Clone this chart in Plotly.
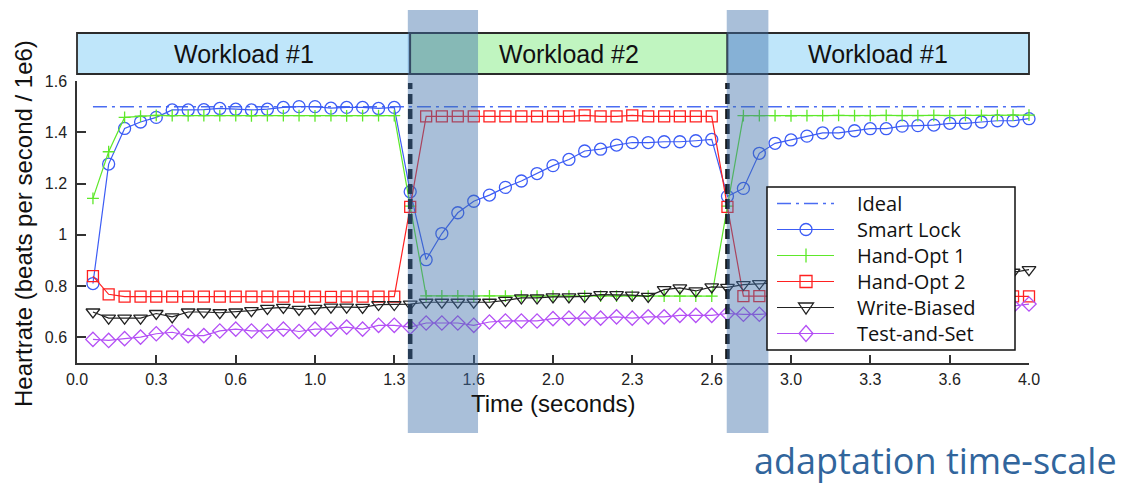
import plotly.graph_objects as go

# ---------------------------------------------------------------- data ----
time_s = [0.067, 0.133, 0.2, 0.267, 0.333, 0.4, 0.467, 0.533, 0.6, 0.667,
          0.733, 0.8, 0.867, 0.933, 1.0, 1.067, 1.133, 1.2, 1.267, 1.333,
          1.4, 1.467, 1.533, 1.6, 1.667, 1.733, 1.8, 1.867, 1.933, 2.0,
          2.067, 2.133, 2.2, 2.267, 2.333, 2.4, 2.467, 2.533, 2.6, 2.667,
          2.733, 2.8, 2.867, 2.933, 3.0, 3.067, 3.133, 3.2, 3.267, 3.333,
          3.4, 3.467, 3.533, 3.6, 3.667, 3.733, 3.8, 3.867, 3.933, 4.0]

ideal_time = [0.067, 4.0]
ideal = [1.5, 1.5]

smart_lock = [0.81, 1.276, 1.415, 1.44, 1.458, 1.487, 1.487, 1.488, 1.493, 1.49,
              1.487, 1.49, 1.497, 1.5, 1.5, 1.494, 1.497, 1.497, 1.493, 1.497,
              1.168, 0.903, 1.005, 1.086, 1.131, 1.155, 1.185, 1.21, 1.239, 1.27,
              1.294, 1.327, 1.334, 1.35, 1.36, 1.36, 1.363, 1.363, 1.367, 1.372,
              1.15, 1.181, 1.318, 1.357, 1.37, 1.385, 1.398, 1.398, 1.406, 1.414,
              1.414, 1.424, 1.426, 1.428, 1.435, 1.435, 1.44, 1.445, 1.445, 1.453]

hand_opt_1 = [1.142, 1.324, 1.458, 1.463, 1.466, 1.465, 1.465, 1.465, 1.465, 1.465,
              1.464, 1.465, 1.465, 1.465, 1.464, 1.465, 1.464, 1.465, 1.465, 1.465,
              1.112, 0.762, 0.762, 0.762, 0.761, 0.762, 0.761, 0.761, 0.761, 0.761,
              0.761, 0.761, 0.761, 0.761, 0.761, 0.761, 0.761, 0.761, 0.761, 0.761,
              1.112, 1.465, 1.465, 1.465, 1.464, 1.465, 1.465, 1.466, 1.465, 1.465,
              1.466, 1.465, 1.465, 1.466, 1.465, 1.466, 1.466, 1.466, 1.467, 1.467]

hand_opt_2 = [0.839, 0.768, 0.759, 0.759, 0.759, 0.759, 0.759, 0.759, 0.759, 0.759,
              0.759, 0.759, 0.759, 0.759, 0.759, 0.758, 0.759, 0.759, 0.759, 0.759,
              1.109, 1.462, 1.462, 1.462, 1.462, 1.462, 1.462, 1.462, 1.462, 1.462,
              1.462, 1.466, 1.462, 1.462, 1.466, 1.462, 1.462, 1.462, 1.462, 1.462,
              1.109, 0.761, 0.761, 0.76, 0.76, 0.76, 0.76, 0.76, 0.76, 0.76,
              0.76, 0.76, 0.76, 0.76, 0.76, 0.76, 0.76, 0.76, 0.76, 0.76]

write_biased = [0.699, 0.675, 0.675, 0.675, 0.693, 0.68, 0.699, 0.699, 0.696, 0.699,
                0.704, 0.713, 0.717, 0.709, 0.713, 0.718, 0.718, 0.717, 0.728, 0.728,
                0.73, 0.737, 0.737, 0.737, 0.737, 0.737, 0.744, 0.754, 0.754, 0.758,
                0.758, 0.76, 0.767, 0.767, 0.765, 0.76, 0.786, 0.793, 0.781, 0.797,
                0.795, 0.806, 0.81, 0.812, 0.815, 0.817, 0.82, 0.823, 0.826, 0.828,
                0.831, 0.834, 0.836, 0.839, 0.842, 0.845, 0.847, 0.85, 0.854, 0.864]

test_and_set = [0.592, 0.588, 0.595, 0.601, 0.614, 0.62, 0.607, 0.607, 0.625, 0.632,
                0.625, 0.625, 0.632, 0.623, 0.632, 0.632, 0.64, 0.632, 0.647, 0.647,
                0.64, 0.656, 0.656, 0.656, 0.647, 0.66, 0.664, 0.664, 0.664, 0.673,
                0.675, 0.675, 0.675, 0.68, 0.675, 0.68, 0.68, 0.686, 0.686, 0.686,
                0.693, 0.69, 0.69, 0.692, 0.694, 0.696, 0.698, 0.7, 0.702, 0.704,
                0.706, 0.708, 0.71, 0.712, 0.714, 0.716, 0.718, 0.72, 0.722, 0.73]

legend_labels = ["Ideal", "Smart Lock", "Hand-Opt 1", "Hand-Opt 2",
                 "Write-Biased", "Test-and-Set"]

workload_labels = ["Workload #1", "Workload #2", "Workload #1"]
workload_edges = [0.0, 1.4, 2.733, 4.0]          # seconds
switch_times = [1.4, 2.733]                       # workload changes
adapt_windows = [(1.39, 1.685), (2.73, 2.905)]    # seconds

x_tick_vals = [0.0, 1 / 3, 2 / 3, 1.0, 4 / 3, 5 / 3, 2.0, 7 / 3, 8 / 3,
               3.0, 10 / 3, 11 / 3, 4.0]
x_tick_text = ["0.0", "0.3", "0.6", "1.0", "1.3", "1.6", "2.0", "2.3", "2.6",
               "3.0", "3.3", "3.6", "4.0"]
y_tick_vals = [0.6, 0.8, 1.0, 1.2, 1.4, 1.6]
y_tick_text = ["0.6", "0.8", "1", "1.2", "1.4", "1.6"]

# ------------------------------------------------------------ geometry ----
FIG_W, FIG_H = 1146, 487
M_L, M_R, M_T, M_B = 77, 117, 81, 124
PLOT_W = FIG_W - M_L - M_R
PLOT_H = FIG_H - M_T - M_B
X_RANGE = [0.0, 4.0]
Y_RANGE = [0.5, 1.6]

ARIAL = "Liberation Sans, Arial, sans-serif"
SLIDE = "Open Sans, Noto Sans, sans-serif"


def px_x(px):
    """Pixel column -> paper x."""
    return (px - M_L) / PLOT_W


def px_y(py):
    """Pixel row (from top) -> paper y."""
    return (FIG_H - M_B - py) / PLOT_H


def t_x(t):
    """Time in seconds -> paper x."""
    return (t - X_RANGE[0]) / (X_RANGE[1] - X_RANGE[0])


def px_path(points, close=True):
    parts = []
    for i, (x, y) in enumerate(points):
        parts.append(("M" if i == 0 else "L") + f"{px_x(x):.5f},{px_y(y):.5f}")
    return " ".join(parts) + (" Z" if close else "")


# series styling: colour, marker symbol, marker size
styles = {
    "Ideal": dict(color="#4a6cf2", symbol=None, size=0, dash="14px,5px,3px,5px"),
    "Smart Lock": dict(color="#3c5cf5", symbol="circle-open", size=12, dash="solid"),
    "Hand-Opt 1": dict(color="#5ee82a", symbol="cross-thin-open", size=8.5, dash="solid"),
    "Hand-Opt 2": dict(color="#ff2020", symbol="square-open", size=11, dash="solid"),
    "Write-Biased": dict(color="#222222", symbol="triangle-down-open", size=12, dash="solid"),
    "Test-and-Set": dict(color="#b450f5", symbol="diamond-open", size=11, dash="solid"),
}

fig = go.Figure()

fig.add_trace(go.Scatter(
    x=ideal_time, y=ideal, mode="lines", name="Ideal", showlegend=False,
    line=dict(color=styles["Ideal"]["color"], width=1.5, dash=styles["Ideal"]["dash"]),
    cliponaxis=False,
))

for name, values in zip(legend_labels[1:],
                        [smart_lock, hand_opt_1, hand_opt_2, write_biased, test_and_set]):
    st = styles[name]
    fig.add_trace(go.Scatter(
        x=time_s, y=values, mode="lines+markers", name=name, showlegend=False,
        line=dict(color=st["color"], width=1.2),
        marker=dict(symbol=st["symbol"], size=st["size"], color=st["color"],
                    line=dict(color=st["color"], width=1.3)),
        cliponaxis=False,
    ))

shapes = []
annotations = []

# workload banner above the plot
banner_fill = {"Workload #1": "#bfe6fa", "Workload #2": "#c0f5c0"}
for i, label in enumerate(workload_labels):
    x0, x1 = t_x(workload_edges[i]), t_x(workload_edges[i + 1])
    shapes.append(dict(type="rect", xref="paper", yref="paper",
                       x0=x0, x1=x1, y0=px_y(74), y1=px_y(33),
                       fillcolor=banner_fill[label],
                       line=dict(color="#2b2b2b", width=1.8), layer="above"))
    annotations.append(dict(xref="paper", yref="paper", x=(x0 + x1) / 2, y=px_y(53.5),
                            text=label, showarrow=False, xanchor="center", yanchor="middle",
                            font=dict(family=ARIAL, size=25, color="#111111")))

# workload switch markers
for t in switch_times:
    shapes.append(dict(type="line", xref="paper", yref="paper",
                       x0=t_x(t), x1=t_x(t), y0=px_y(359), y1=px_y(83),
                       line=dict(color="#111111", width=4.5, dash="10px,5px"),
                       layer="above"))

# adaptation windows
for t0, t1 in adapt_windows:
    shapes.append(dict(type="rect", xref="paper", yref="paper",
                       x0=t_x(t0), x1=t_x(t1), y0=px_y(433), y1=px_y(10),
                       fillcolor="rgba(64,113,171,0.45)", line=dict(width=0),
                       layer="above"))

# legend box
LEG_L, LEG_R, LEG_T, LEG_B = 767, 1015, 187, 350
ROW0, ROW_STEP = 203.5, 26
SAMPLE_X0, SAMPLE_X1, MARK_X, TEXT_X = 777, 834, 806, 855

shapes.append(dict(type="rect", xref="paper", yref="paper",
                   x0=px_x(LEG_L), x1=px_x(LEG_R), y0=px_y(LEG_B), y1=px_y(LEG_T),
                   fillcolor="white", line=dict(color="#111111", width=1.5),
                   layer="above"))

for i, name in enumerate(legend_labels):
    st = styles[name]
    ry = ROW0 + i * ROW_STEP
    shapes.append(dict(type="line", xref="paper", yref="paper",
                       x0=px_x(SAMPLE_X0), x1=px_x(SAMPLE_X1), y0=px_y(ry), y1=px_y(ry),
                       line=dict(color=st["color"], width=1.5 if name == "Ideal" else 1.2,
                                 dash=st["dash"]),
                       layer="above"))
    mark = dict(xref="paper", yref="paper", layer="above",
                line=dict(color=st["color"], width=1.3), fillcolor="rgba(0,0,0,0)")
    mx = MARK_X
    if st["symbol"] == "circle-open":
        shapes.append(dict(mark, type="circle", x0=px_x(mx - 6), x1=px_x(mx + 6),
                           y0=px_y(ry + 6), y1=px_y(ry - 6)))
    elif st["symbol"] == "square-open":
        shapes.append(dict(mark, type="rect", x0=px_x(mx - 6), x1=px_x(mx + 6),
                           y0=px_y(ry + 6), y1=px_y(ry - 6)))
    elif st["symbol"] == "cross-thin-open":
        shapes.append(dict(mark, type="path",
                           path=px_path([(mx, ry - 7), (mx, ry + 7)], close=False)))
    elif st["symbol"] == "triangle-down-open":
        shapes.append(dict(mark, type="path",
                           path=px_path([(mx - 7.5, ry - 4.5), (mx + 7.5, ry - 4.5), (mx, ry + 6.5)])))
    elif st["symbol"] == "diamond-open":
        shapes.append(dict(mark, type="path",
                           path=px_path([(mx, ry - 8), (mx + 7, ry), (mx, ry + 8), (mx - 7, ry)])))
    annotations.append(dict(xref="paper", yref="paper", x=px_x(TEXT_X), y=px_y(ry),
                            text=name, showarrow=False, xanchor="left", yanchor="middle",
                            font=dict(family=SLIDE, size=20, color="#111111")))

# axis titles
annotations.append(dict(xref="paper", yref="paper", x=px_x(553), y=px_y(403),
                        text="Time (seconds)", showarrow=False,
                        xanchor="center", yanchor="middle",
                        font=dict(family=ARIAL, size=24, color="#111111")))
annotations.append(dict(xref="paper", yref="paper", x=px_x(23), y=px_y(224),
                        text="Heartrate (beats per second / 1e6)", showarrow=False,
                        textangle=-90, xanchor="center", yanchor="middle",
                        font=dict(family=ARIAL, size=24, color="#111111")))

# caption under the chart
annotations.append(dict(xref="paper", yref="paper", x=px_x(935), y=px_y(460),
                        text="adaptation time-scale", showarrow=False,
                        xanchor="center", yanchor="middle",
                        font=dict(family=SLIDE, size=36, color="#31659c")))

fig.update_layout(
    width=FIG_W, height=FIG_H,
    margin=dict(l=M_L, r=M_R, t=M_T, b=M_B, pad=0),
    paper_bgcolor="white", plot_bgcolor="white",
    showlegend=False,
    shapes=shapes, annotations=annotations,
    xaxis=dict(range=X_RANGE, tickvals=x_tick_vals, ticktext=x_tick_text,
               ticks="inside", ticklen=8, tickwidth=1.5, tickcolor="#333333",
               showline=True, linecolor="#333333", linewidth=1.5,
               showgrid=False, zeroline=False, ticklabelstandoff=1,
               tickfont=dict(family=ARIAL, size=16, color="#222222")),
    yaxis=dict(range=Y_RANGE, tickvals=y_tick_vals, ticktext=y_tick_text,
               ticks="inside", ticklen=9, tickwidth=1.5, tickcolor="#333333",
               showline=True, linecolor="#333333", linewidth=1.5,
               showgrid=False, zeroline=False, ticklabelstandoff=5,
               tickfont=dict(family=ARIAL, size=16, color="#222222")),
)

fig.write_html("out.html")
